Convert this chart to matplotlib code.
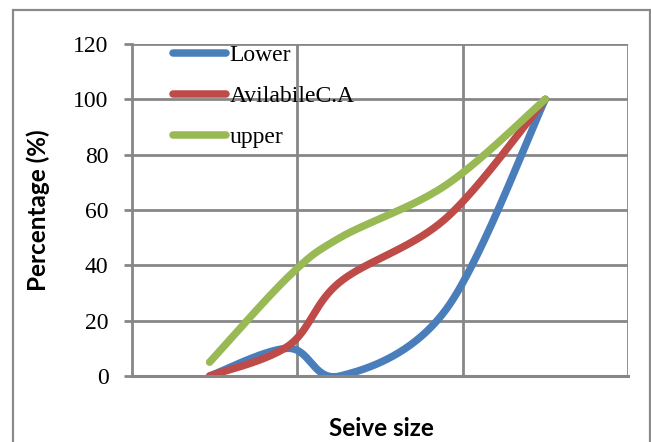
import numpy as np
import matplotlib
matplotlib.use("Agg")
import matplotlib.pyplot as plt
from matplotlib.patches import Rectangle

# Data (sieve size in mm, percentage passing)
sieve_sizes = [2.36, 4.75, 6.3, 9.5, 12.5]
lower = [0, 10, 0, 24, 100]
available_ca = [0, 11, 34, 57, 100]
upper = [5, 36, 50, 69, 100]
series_names = ["Lower", "AvilabileC.A", "upper"]
colors = ["#4A7EBB", "#BE4B48", "#98B954"]
y_ticks = [0, 20, 40, 60, 80, 100, 120]


def smooth(xs, ys, n=60):
    """Excel-like smoothed line (cubic Bezier with Catmull-Rom control points)."""
    P = np.column_stack([xs, ys]).astype(float)
    m = len(P)
    out = [P[0]]
    for i in range(m - 1):
        p0 = P[i - 1] if i > 0 else P[i]
        p1 = P[i]
        p2 = P[i + 1]
        p3 = P[i + 2] if i + 2 < m else P[i + 1]
        c1 = p1 + (p2 - p0) / 6.0
        c2 = p2 - (p3 - p1) / 6.0
        t = np.linspace(0, 1, n)[1:, None]
        seg = ((1 - t) ** 3) * p1 + 3 * ((1 - t) ** 2) * t * c1 + 3 * (1 - t) * t ** 2 * c2 + t ** 3 * p2
        out.extend(seg)
    out = np.array(out)
    return out[:, 0], out[:, 1]


W, H = 651, 442
fig = plt.figure(figsize=(W / 100, H / 100), dpi=100)

# outer chart border
fig.patches.append(Rectangle((13 / W, -0.05), (650 - 13) / W, (H - 10) / H + 0.05,
                             transform=fig.transFigure, fill=False,
                             edgecolor="#8a8a8a", linewidth=1.6))

left, right, top, bottom = 131.5, 628, 44, 376
ax = fig.add_axes([left / W, (H - bottom) / H, (right - left) / W, (bottom - top) / H])

gridc = "#878787"
for s in ax.spines.values():
    s.set_visible(False)
ax.spines["left"].set_visible(True)
ax.spines["left"].set_color(gridc)
ax.spines["left"].set_linewidth(2.0)
ax.spines["bottom"].set_visible(True)
ax.spines["bottom"].set_color(gridc)
ax.spines["bottom"].set_linewidth(2.2)

ax.set_xlim(0, 15)
ax.set_ylim(0, 120)
ax.set_xticks([5, 10, 15])
ax.set_xticklabels([])
ax.tick_params(axis="x", length=0)
ax.set_yticks(y_ticks)
ax.set_yticklabels([str(v) for v in y_ticks], fontfamily="Liberation Serif", fontsize=17)
ax.tick_params(axis="y", length=6, width=2.0, color=gridc, pad=10.5)
ax.grid(True, color=gridc, linewidth=2.0)
ax.set_axisbelow(True)

for name, ys, c in zip(series_names, [lower, available_ca, upper], colors):
    sx, sy = smooth(sieve_sizes, ys)
    ax.plot(sx, sy, color=c, linewidth=5.4, solid_capstyle="round", label=name)

leg = ax.legend(loc="upper left", bbox_to_anchor=(0.083, 0.998), frameon=False,
                prop={"family": "Liberation Serif", "size": 17},
                handlelength=2.25, handletextpad=0.15, labelspacing=0.82,
                borderaxespad=0, borderpad=0)

fig.text(38 / W, (H - 210) / H, "Percentage (%)", rotation=90, ha="center", va="center",
         fontfamily="Lato", fontweight="bold", fontsize=17.5)
fig.text(381 / W, (H - 429) / H, "Seive size", ha="center", va="center",
         fontfamily="Lato", fontweight="bold", fontsize=17.5)

fig.savefig("out.png", dpi=100)
